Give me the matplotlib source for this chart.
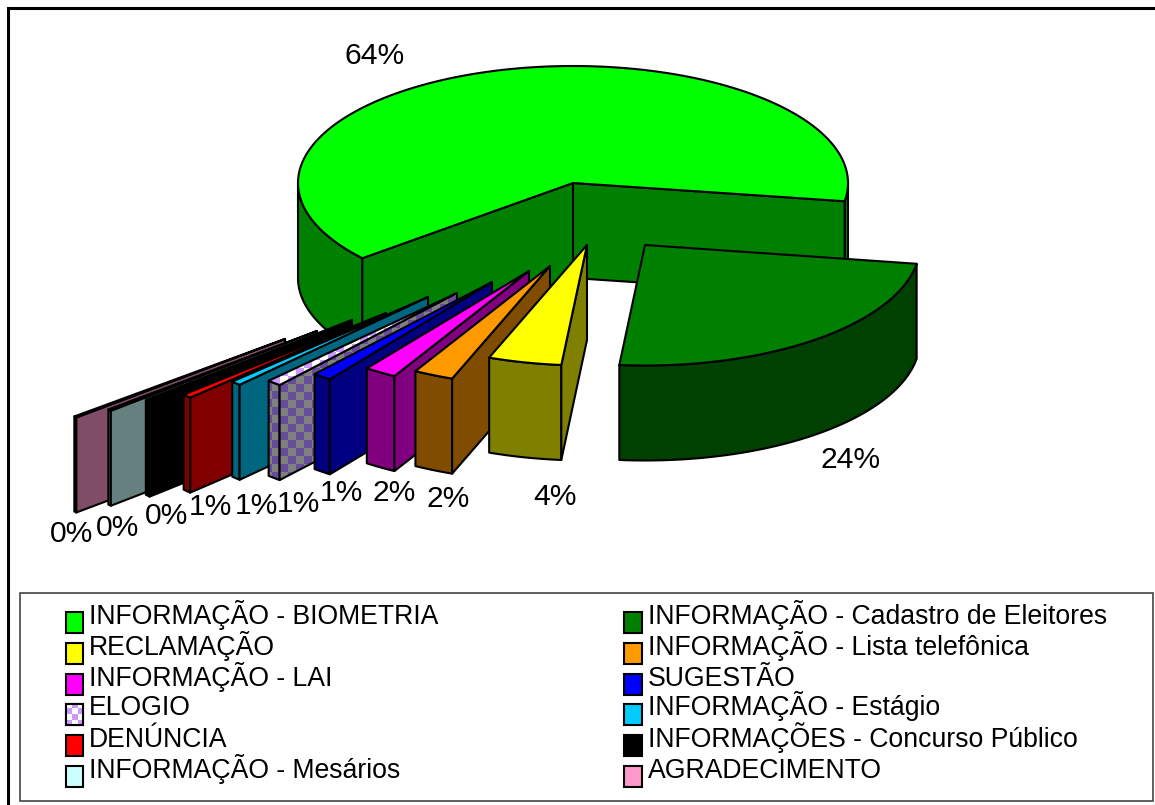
import numpy as np
import matplotlib
matplotlib.use("Agg")
import matplotlib.pyplot as plt
from matplotlib.colors import to_rgb
from matplotlib.patches import Polygon, Rectangle

plt.rcParams['font.family'] = ['Liberation Sans', 'DejaVu Sans']

# slice data, in the legend order
labels = ["INFORMAÇÃO - BIOMETRIA", "INFORMAÇÃO - Cadastro de Eleitores",
          "RECLAMAÇÃO", "INFORMAÇÃO - Lista telefônica",
          "INFORMAÇÃO - LAI", "SUGESTÃO",
          "ELOGIO", "INFORMAÇÃO - Estágio",
          "DENÚNCIA", "INFORMAÇÕES - Concurso Público",
          "INFORMAÇÃO - Mesários", "AGRADECIMENTO"]
values = [63.6, 24.0, 4.3, 2.35, 1.9, 1.12, 0.85, 0.6, 0.55, 0.33, 0.22, 0.18]
top_colors = ["#00FF00", "#008000", "#FFFF00", "#FF9900", "#FF00FF", "#0000FF",
              "#CC99FF", "#00CCFF", "#FF0000", "#000000", "#CCFFFF", "#FF99CC"]
side_colors = ["#008000", "#004000", "#808000", "#804D00", "#800080", "#000080",
               "#808080", "#006680", "#800000", "#000000", "#668080", "#804D66"]

# pie layout in pixels
CENTER = (573, 183)
RX = 275
RY_MAIN = 117
RY_OUT = 120.5
DEPTH = 95
START = 220
# how far each slice was pulled out of the pie
explode = [(0, 0), (72, 62), (14, 62), (-23, 83), (-44, 88), (-81, 99),
           (-116, 110), (-145, 114), (-187, 130), (-221, 137), (-256, 148), (-288, 156)]
label_pos = [(375, 56), (851, 460), (555, 497), (448, 499), (394, 493), (341, 493),
             (298, 504), (256, 506), (210, 507), (167, 516), (118, 528), (72, 534)]
PATTERN = 6  # index of the checkered slice

# legend rows
base_y = [624, 655, 686, 715, 746.5, 777.5]
box_y = [612, 643, 674, 703.5, 734.5, 766]

fig = plt.figure(figsize=(11.55, 8.05), dpi=100)
ax = fig.add_axes([0, 0, 1, 1])


def checker(poly, c1, c2, z, cell):
    # checkered fill for ELOGIO, clipped to the polygon
    xs = poly[:, 0]
    ys = poly[:, 1]
    x0, x1, y0, y1 = int(xs.min()) - 1, int(xs.max()) + 2, int(ys.min()) - 1, int(ys.max()) + 2
    yy, xx = np.mgrid[y0:y1, x0:x1]
    cells = ((xx // cell + yy // cell) % 2)
    rgb = np.array([to_rgb(c1), to_rgb(c2)])[cells]
    im = ax.imshow(rgb, extent=(x0, x1, y1, y0), zorder=z, aspect='auto', interpolation='nearest')
    im.set_clip_path(Polygon(poly, closed=True, transform=ax.transData))


def face(poly, color, z, pattern=None):
    poly = np.array(poly)
    if pattern:
        ax.add_patch(Polygon(poly, closed=True, fc=pattern[0], ec='none', zorder=z))
        checker(poly, pattern[0], pattern[1], z + 0.1, 8)
        ax.add_patch(Polygon(poly, closed=True, fc='none', ec='black', lw=1.5, joinstyle='round', zorder=z + 0.2))
    else:
        ax.add_patch(Polygon(poly, closed=True, fc=color, ec='black', lw=1.5, joinstyle='round', zorder=z))


def draw_slice(i, lo, hi, z):
    cx = CENTER[0] + explode[i][0]
    cy = CENTER[1] + explode[i][1]
    ry = RY_MAIN if i == 0 else RY_OUT

    def pt(a):
        a = np.radians(a)
        return np.column_stack([cx + RX * np.cos(a), cy - ry * np.sin(a)])

    side_pat = ("#808080", "#664D99") if i == PATTERN else None
    top_pat = ("#FFFFFF", "#CC99FF") if i == PATTERN else None

    # outer wall, only the part that faces the viewer
    for k in (-1, 0, 1):
        a0 = max(lo, -180 + 360 * k)
        a1 = min(hi, 360 * k)
        if a1 > a0:
            arc = pt(np.linspace(a0, a1, 80))
            wall = np.vstack([arc, arc[::-1] + [0, DEPTH]])
            face(wall, side_colors[i], z, side_pat)

    # cut walls
    apex = np.array([cx, cy])
    if np.cos(np.radians(lo)) > 0:
        e = pt([lo])[0]
        face([apex, e, e + [0, DEPTH], apex + [0, DEPTH]], side_colors[i], z + 0.3, side_pat)
    if np.cos(np.radians(hi)) < 0:
        e = pt([hi])[0]
        face([apex, e, e + [0, DEPTH], apex + [0, DEPTH]], side_colors[i], z + 0.3, side_pat)

    # top
    arc = pt(np.linspace(lo, hi, 200))
    face(np.vstack([[apex], arc]), top_colors[i], z + 0.6, top_pat)


# angles from the values, clockwise from START
total = sum(values)
angles = [START]
for v in values:
    angles.append(angles[-1] - 360 * v / total)

# painter's order: main slice, then the small ones from the far end forward
order = [0] + list(range(len(values) - 1, 1, -1)) + [1]
for n, i in enumerate(order):
    draw_slice(i, angles[i + 1], angles[i], 2 + n)

for i, v in enumerate(values):
    ax.text(label_pos[i][0], label_pos[i][1], "%.0f%%" % v, fontsize=21.6, color='black',
            ha='center', va='center', zorder=50)

# outer frame (only top and left show) and legend box
ax.plot([8, 8, 1155], [805, 8.5, 8.5], color='black', lw=2.2, solid_joinstyle='miter', zorder=1)
ax.add_patch(Rectangle((20, 593), 1133, 208, fc='white', ec='#444444', lw=1.2, zorder=1.5))

# legend
for i, name in enumerate(labels):
    row = i // 2
    sx = 65.5 if i % 2 == 0 else 624
    sy = box_y[row]
    ax.add_patch(Rectangle((sx, sy), 17.5, 21, fc=top_colors[i], ec='black', lw=1.5, zorder=40))
    if i == PATTERN:
        sq = np.array([[sx, sy], [sx + 17.5, sy], [sx + 17.5, sy + 21], [sx, sy + 21]])
        ax.add_patch(Rectangle((sx, sy), 17.5, 21, fc='white', ec='none', zorder=40.1))
        checker(sq, "#FFFFFF", "#CC99FF", 40.2, 6)
        ax.add_patch(Rectangle((sx, sy), 17.5, 21, fc='none', ec='black', lw=1.5, zorder=40.3))
    ax.text(sx + 23.5, base_y[row], name, fontsize=19.2, color='black', ha='left', va='baseline', zorder=41)

ax.set_xlim(0, 1155)
ax.set_ylim(805, 0)
ax.axis('off')

fig.savefig("out.png", dpi=100)
